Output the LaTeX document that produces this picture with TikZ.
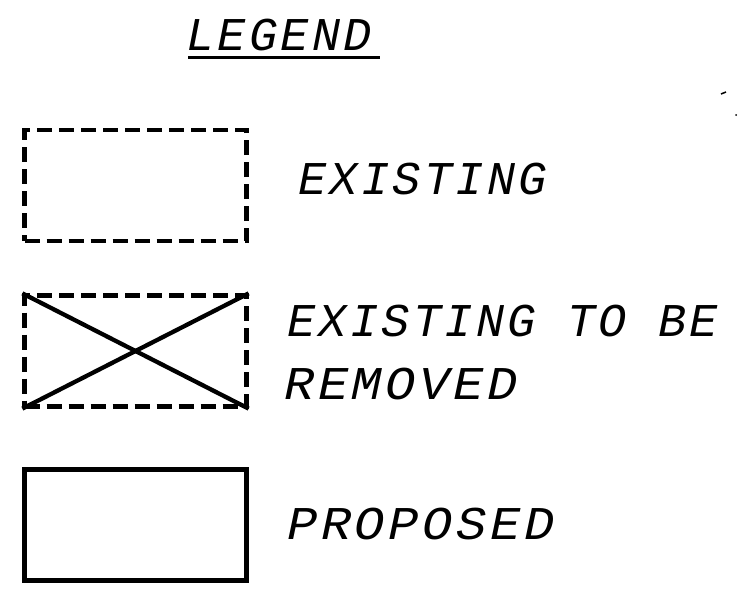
\documentclass[tikz,border=0pt]{standalone}
\usepackage{graphicx}
\usepackage{fontspec}
\newfontfamily\cad[LetterSpace=7]{Liberation Mono}
\begin{document}
\begin{tikzpicture}[x=1pt,y=-1pt,
  lbl/.style={anchor=base west,inner sep=0pt,font=\cad\itshape\fontsize{47}{62}\selectfont},
  legbox/.style={minimum width=222pt,minimum height=111pt,inner sep=0pt,line width=4.3pt},
  dashbox/.style={legbox,draw,dash pattern=on 15pt off 7pt},
  solidbox/.style={legbox,draw}]
\useasboundingbox (0,0) rectangle (751,591);
\node[lbl] (title) at (186,51) {LEGEND};
\draw[line width=3pt] (188,58) -- (380,58);
\node[dashbox] (ex) at (135.5,185.5) {};
\node[lbl] (extxt) at (298,194) {EXISTING};
\node[dashbox] (rm) at (135.5,351) {};
\draw[line width=4.3pt] (rm.north west) -- (rm.south east);
\draw[line width=4.3pt] (rm.south west) -- (rm.north east);
\node[lbl] (rmtxt) at (287,336) {EXISTING TO BE};
\node[lbl] (rmtxt2) at (284,399) {\scalebox{1.075}[1]{REMOVED}};
\node[solidbox] (pr) at (135.5,525) {};
\node[lbl] (prtxt) at (287,539) {\scalebox{1.075}[1]{PROPOSED}};
\draw[line width=1.5pt] (721,94) -- (726,92);
\fill (736,115) circle (1pt);
\end{tikzpicture}
\end{document}
